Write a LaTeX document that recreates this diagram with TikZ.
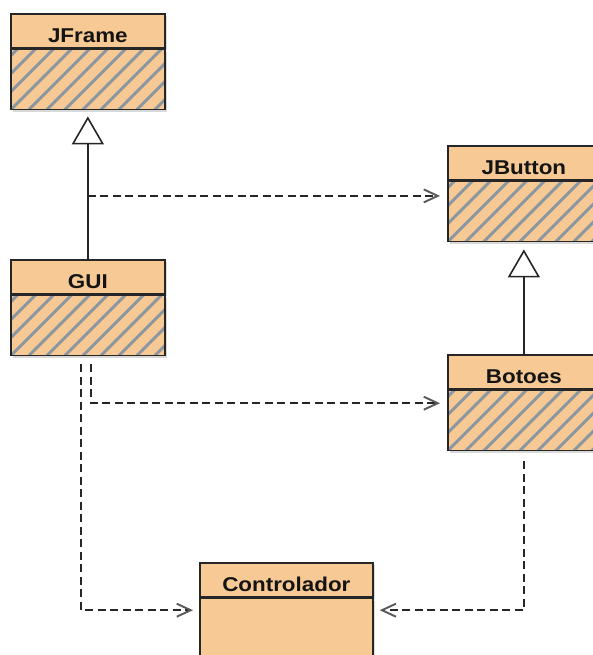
\documentclass[tikz,border=0pt]{standalone}
\usepackage{fontspec}
\setmainfont{Liberation Sans}
\newfontfamily\boxfont[FakeStretch=1.12]{Liberation Sans}
\usetikzlibrary{arrows.meta,shadows,calc}
\definecolor{peach}{HTML}{F6C995}
\definecolor{hatchgray}{HTML}{8D97A2}
\definecolor{edge}{HTML}{262626}
\newcommand{\hdtext}[1]{\raisebox{-11.5pt}[0pt][0pt]{#1}}
\tikzset{
  classhead/.style={draw=edge, line width=1.7pt, fill=peach, minimum width=#1,
    minimum height=34pt, inner sep=0pt, anchor=north west,
    font=\boxfont\bfseries\fontsize{20}{24}\selectfont, text=black!92,
    drop shadow={shadow xshift=2pt,shadow yshift=-2pt,opacity=0.3}},
  classbody/.style={draw=edge, line width=1.7pt, fill=peach, minimum width=#1,
    minimum height=60pt, inner sep=0pt, anchor=north west,
    drop shadow={shadow xshift=2pt,shadow yshift=-2pt,opacity=0.3}},
  hatchline/.style={draw=hatchgray, line width=3pt},
  hatch/.style={path picture={
    \foreach \k in {-12,...,12}{
      \draw[hatchline] ($(path picture bounding box.south west)+(\k*18pt,0pt)$) -- ++(200pt,200pt);
    }}},
  gen/.style={draw=edge, line width=1.8pt,
    -{Triangle[length=28pt,width=32pt,fill=white,line width=1.6pt]}},
  dep/.style={draw=edge, line width=1.8pt, dash pattern=on 8pt off 4.5pt,
    -{Straight Barb[length=14pt,width=13pt,line width=1.9pt,color=black!65]}},
}
\begin{document}
\begin{tikzpicture}[x=1pt,y=-1pt]
\useasboundingbox (0,0) rectangle (593,655);
% JFrame
\node[classhead=154pt] (jframeH) at (10,13) {\hdtext{JFrame}};
\node[classbody=154pt, hatch] (jframe) at (jframeH.south west) {};
% JButton
\node[classhead=152pt] (jbuttonH) at (447,145) {\hdtext{JButton}};
\node[classbody=152pt, hatch] (jbutton) at (jbuttonH.south west) {};
% GUI
\node[classhead=154pt] (guiH) at (10,259) {\hdtext{GUI}};
\node[classbody=154pt, hatch] (gui) at (guiH.south west) {};
% Botoes
\node[classhead=152pt] (botoesH) at (447,354) {\hdtext{Botoes}};
\node[classbody=152pt, hatch] (botoes) at (botoesH.south west) {};
% Controlador
\node[classhead=173pt] (ctrlH) at (199,562) {\hdtext{Controlador}};
\node[classbody=173pt, minimum height=75pt] (ctrl) at (ctrlH.south west) {};

% generalizations
\draw[gen] (guiH.north) -- ($(jframe.south)+(0,6)$);
\draw[gen] (botoesH.north) -- ($(jbutton.south)+(0,7)$);

% dependencies
\coordinate (a1) at ($(jframe.south)+(0,85.5)$);
\draw[dep, shorten >=7pt] (a1) -- (a1 -| jbutton.west);
\coordinate (g1) at ($(gui.south)+(3,8)$);
\coordinate (b1) at ($(botoes.north west)+(0,13.5)$);
\draw[dep, shorten >=7pt] (g1) |- (b1);
\coordinate (g2) at ($(gui.south)+(-7,8)$);
\coordinate (c1) at ($(ctrl.north west)+(0,12.5)$);
\draw[dep, shorten >=6pt] (g2) |- (c1);
\coordinate (b2) at ($(botoes.south)+(0,10)$);
\coordinate (c2) at ($(ctrl.north east)+(0,12.5)$);
\draw[dep, shorten >=6pt] (b2) |- (c2);
\end{tikzpicture}
\end{document}
